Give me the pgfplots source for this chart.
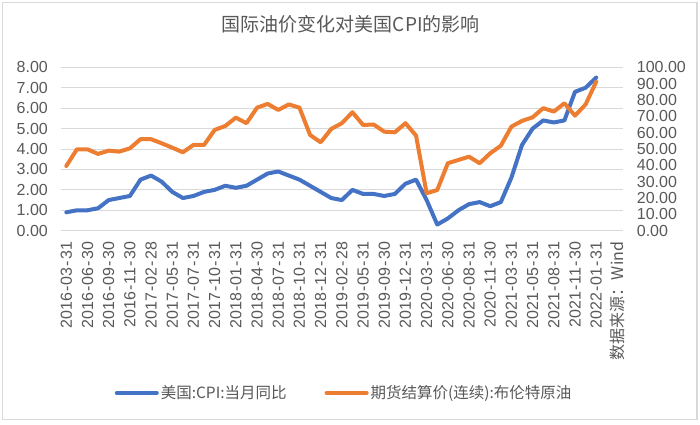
\documentclass[border=0pt]{standalone}
\usepackage{fontspec}
\setmainfont{Liberation Sans}
\newfontfamily\cjk{Noto Sans CJK SC}
\usepackage{pgfplots}
\usepackage{pgfplotstable}
\pgfplotsset{compat=1.18}
\definecolor{cpiblue}{HTML}{4472C4}
\definecolor{oilorange}{HTML}{ED7D31}
\definecolor{txtgray}{HTML}{595959}
\definecolor{gridgray}{HTML}{D9D9D9}
\newcommand{\dt}[3]{#1\kern1.2pt-\kern1.2pt#2\kern1.2pt-\kern1.2pt#3}

\pgfplotstableread{
x cpi oil
0 0.9 39.6
1 1.0 49.8
2 1.0 49.8
3 1.1 47.0
4 1.5 49.0
5 1.6 48.4
6 1.7 50.4
7 2.5 56.0
8 2.7 56.0
9 2.4 53.5
10 1.9 50.8
11 1.6 48.0
12 1.7 52.5
13 1.9 52.5
14 2.0 61.7
15 2.2 64.1
16 2.1 69.2
17 2.2 65.8
18 2.5 75.3
19 2.8 77.6
20 2.9 73.9
21 2.7 77.3
22 2.5 75.3
23 2.2 58.6
24 1.9 54.1
25 1.6 62.3
26 1.5 65.8
27 2.0 72.5
28 1.8 64.7
29 1.8 65.0
30 1.7 60.6
31 1.8 60.2
32 2.3 65.8
33 2.5 58.2
34 1.5 22.9
35 0.3 24.9
36 0.6 41.3
37 1.0 43.3
38 1.3 45.3
39 1.4 41.3
40 1.2 47.4
41 1.4 52.0
42 2.6 63.7
43 4.2 67.2
44 5.0 69.4
45 5.4 75.0
46 5.3 72.9
47 5.4 78.0
48 6.8 70.4
49 7.0 77.3
50 7.5 91.2
}\data

\pgfplotsset{
  base/.style={
    at={(61pt,193.3pt)}, anchor=south west, scale only axis,
    width=561.7pt, height=163.4pt,
    xmin=-0.5, xmax=52.5,
    axis line style={draw=none},
    major tick length=0pt,
    tick label style={font=\fontsize{16}{16}\selectfont, text=txtgray},
    /pgf/number format/fixed,
    /pgf/number format/fixed zerofill,
    /pgf/number format/precision=2,
    /pgf/number format/assume math mode=true,
    clip=false,
  }
}

\begin{document}
\begin{tikzpicture}
\path[use as bounding box] (0pt,0pt) rectangle (700pt,424pt);
\fill[white] (0pt,0pt) rectangle (700pt,424pt);
\draw[gridgray, line width=1.5pt] (2.5pt,4.5pt) rectangle (697pt,421.5pt);
\begin{axis}[base,
  ymin=0, ymax=8, ytick={0,1,...,8},
  ymajorgrids, grid style={gridgray, line width=1pt},
  yticklabel style={anchor=east, inner sep=0pt, inner xsep=13pt},
  xtick={0,2,...,52},
  xticklabels={\dt{2016}{03}{31},\dt{2016}{06}{30},\dt{2016}{09}{30},\dt{2016}{11}{30},
    \dt{2017}{02}{28},\dt{2017}{05}{31},\dt{2017}{07}{31},\dt{2017}{10}{31},
    \dt{2018}{01}{31},\dt{2018}{04}{30},\dt{2018}{07}{31},\dt{2018}{10}{31},
    \dt{2018}{12}{31},\dt{2019}{02}{28},\dt{2019}{05}{31},\dt{2019}{09}{30},
    \dt{2019}{12}{31},\dt{2020}{03}{31},\dt{2020}{06}{30},\dt{2020}{08}{31},
    \dt{2020}{11}{30},\dt{2021}{03}{31},\dt{2021}{05}{31},\dt{2021}{08}{31},
    \dt{2021}{11}{30},\dt{2022}{01}{31},{\cjk 数据来源：Wind}},
  xticklabel style={rotate=90, anchor=east, inner sep=0pt, inner xsep=11pt},
  title={\cjk 国际油价变化对美国CPI的影响},
  title style={at={(0.516,1.224)}, anchor=center, font=\fontsize{19}{19}\selectfont, text=txtgray},
]
\addplot[cpiblue, line width=4pt, line join=round, line cap=round] table[x=x,y=cpi]{\data};
\end{axis}
\begin{axis}[base,
  ymin=0, ymax=100, ytick={0,10,...,100},
  yticklabel pos=right,
  yticklabel style={anchor=west, inner sep=0pt, inner xsep=14pt},
  hide x axis,
  legend columns=2,
  legend image code/.code={\draw[#1, line width=4pt, line cap=round] (0pt,0pt) -- (40pt,0pt);},
  legend style={at={(0.504,-0.993)}, anchor=center, draw=none, fill=none,
    font=\cjk\fontsize{15.5}{15.5}\selectfont, text=txtgray,
    cells={anchor=west},
    /tikz/every even column/.append style={column sep=36pt}},
]
\addlegendimage{cpiblue, line width=4pt}
\addlegendentry{美国:CPI:当月同比}
\addplot[oilorange, line width=4pt, line join=round, line cap=round] table[x=x,y=oil]{\data};
\addlegendentry{期货结算价(连续):布伦特原油}
\end{axis}
\end{tikzpicture}
\end{document}
